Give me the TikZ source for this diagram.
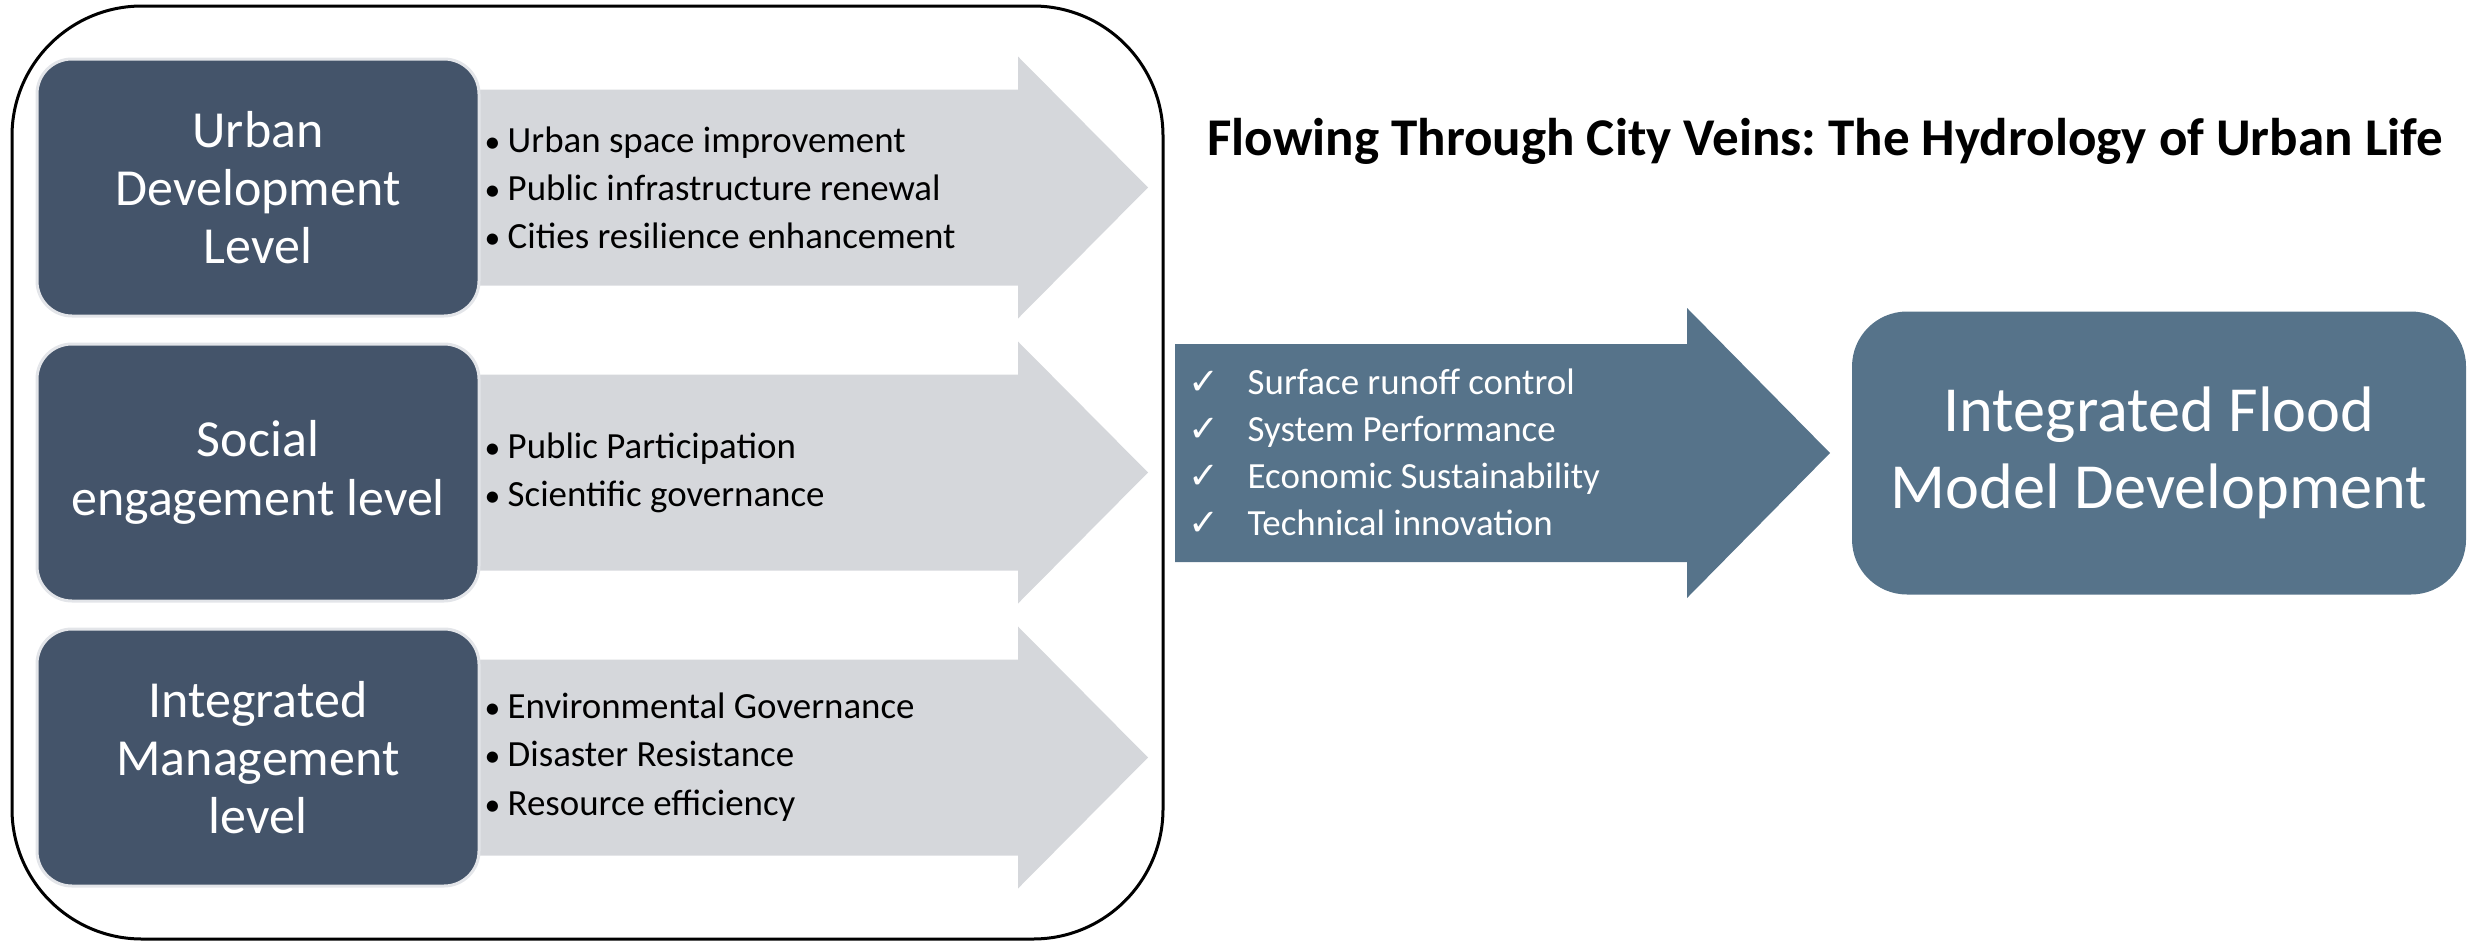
\documentclass[tikz,border=0pt]{standalone}
\usepackage{fontspec}
\setmainfont{Carlito}
\newfontfamily\symfont{DejaVu Sans}
\frenchspacing
\definecolor{lvlblue}{HTML}{44546A}
\definecolor{flowgray}{HTML}{D5D7DB}
\definecolor{modelblue}{HTML}{56738A}
\tikzset{
  lvlbox/.style={fill=lvlblue, draw=white!85!lvlblue, line width=0.3mm,
    rounded corners=3.5mm, minimum width=44.2mm, minimum height=25.7mm,
    text=white, align=center, inner sep=0pt,
    font=\fontsize{14.8}{16.6}\selectfont},
  itemlist/.style={anchor=west, align=left, inner sep=0pt,
    font=\fontsize{10.5}{13.7}\selectfont},
  modelbox/.style={fill=modelblue, rounded corners=5.5mm,
    minimum width=61.4mm, minimum height=28.3mm, text=white,
    align=center, inner sep=0pt, font=\fontsize{18.3}{21.8}\selectfont},
}
\newcommand{\bul}{\makebox[2.3mm][l]{\small\textbullet}}
\newcommand{\chk}{\makebox[5.9mm][l]{{\symfont\fontsize{10.5}{13}\selectfont\char"2713}}}
\begin{document}
\begin{tikzpicture}[x=0.1mm,y=-0.1mm]
\useasboundingbox (0,0) rectangle (2469,943);
% outer frame
\draw[line width=0.3mm, rounded corners=13mm] (12,6) rectangle (1163,939);
% gray flow arrows
\foreach \yc in {187.5,472.5,757.5}
  \fill[flowgray] (470,\yc-98) -- (1018,\yc-98) -- (1018,\yc-131) -- (1148,\yc)
    -- (1018,\yc+131) -- (1018,\yc+98) -- (470,\yc+98) -- cycle;
% levels
\node[lvlbox] (urban) at (258,187.5) {Urban\\Development\\Level};
\node[lvlbox] (social) at (258,472.5) {Social\\engagement level};
\node[lvlbox] (manage) at (258,757.5) {Integrated\\Management\\level};
\node[itemlist] (urbanlist) at (484,188) {\bul Urban space improvement\\
  \bul Public infrastructure renewal\\ \bul Cities resilience enhancement};
\node[itemlist] (sociallist) at (484,473) {\bul Public Participation\\
  \bul Scientific governance};
\node[itemlist] (managelist) at (484,757) {\bul Environmental Governance\\
  \bul Disaster Resistance\\ \bul Resource efficiency};
% title
\node[font=\fontsize{15.1}{18}\selectfont\bfseries] (title) at (1825,141)
  {Flowing Through City Veins: The Hydrology of Urban Life};
% blue flow arrow
\fill[modelblue] (1175,344) -- (1687,344) -- (1687,308) -- (1830,453)
  -- (1687,598) -- (1687,562) -- (1175,562) -- cycle;
\node[itemlist, text=white, font=\fontsize{10.5}{13.4}\selectfont] (checks)
  at (1188,452) {\chk Surface runoff control\\ \chk System Performance\\
  \chk Economic Sustainability\\ \chk Technical innovation};
\node[modelbox] (model) at (2159,453) {Integrated Flood\\Model Development};
\end{tikzpicture}
\end{document}
